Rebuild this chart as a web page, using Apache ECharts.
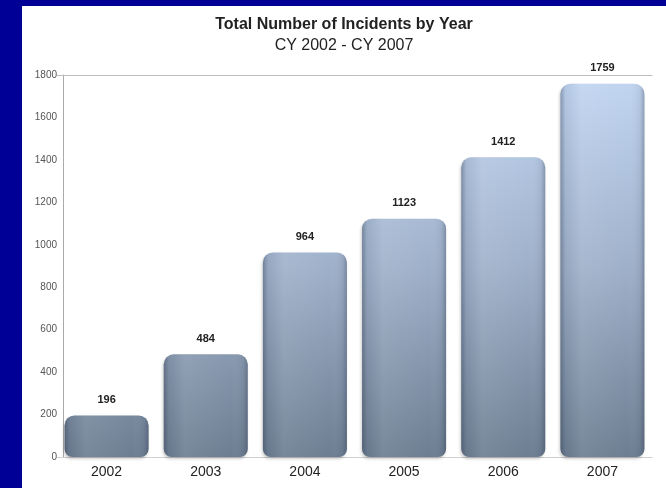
<!DOCTYPE html>
<html>
<head>
<meta charset="utf-8">
<script src="https://cdn.jsdelivr.net/npm/echarts@6/dist/echarts.min.js"></script>
<style>
  html, body { margin: 0; padding: 0; background: #000096; width: 666px; height: 488px; overflow: hidden; }
  #chart { position: absolute; left: 22px; top: 6px; width: 644px; height: 482px; background: #fff; }
</style>
</head>
<body>
<div id="chart"></div>
<script>
// incidents per calendar year
const years = ['2002', '2003', '2004', '2005', '2006', '2007'];
const incidents = [196, 484, 964, 1123, 1412, 1759];

const chart = echarts.init(document.getElementById('chart'));

// vertical shade over the whole plot, dark at the bottom, light at the top
const bodyFill = new echarts.graphic.LinearGradient(0, 69, 0, 451, [
  { offset: 0, color: '#c2d6f2' },
  { offset: 0.5, color: '#9fb1ca' },
  { offset: 1, color: '#6d7e92' }
], true);

// side shading so the bars look rounded
const edgeFill = new echarts.graphic.LinearGradient(0, 0, 1, 0, [
  { offset: 0, color: 'rgba(30,40,60,0.35)' },
  { offset: 0.06, color: 'rgba(30,40,60,0.08)' },
  { offset: 0.25, color: 'rgba(255,255,255,0.08)' },
  { offset: 0.8, color: 'rgba(255,255,255,0)' },
  { offset: 0.95, color: 'rgba(30,40,60,0.08)' },
  { offset: 1, color: 'rgba(30,40,60,0.3)' }
]);

const option = {
  animation: false,
  title: {
    text: 'Total Number of Incidents by Year',
    subtext: 'CY 2002 - CY 2007',
    left: 'center',
    top: 6,
    itemGap: 5,
    textStyle: { fontFamily: 'Liberation Sans', fontSize: 16, fontWeight: 'bold', color: '#222' },
    subtextStyle: { fontFamily: 'Liberation Sans', fontSize: 16, color: '#222' }
  },
  grid: { left: 35, right: 14, top: 69, bottom: 31 },
  xAxis: [
    {
      type: 'category',
      data: years,
      axisLine: { lineStyle: { color: '#cfcfcf' } },
      axisTick: { show: false },
      axisLabel: { fontFamily: 'Liberation Sans', fontSize: 14, color: '#222', margin: 8 }
    },
    {
      type: 'category',
      position: 'top',
      data: years,
      axisLine: { lineStyle: { color: '#bdbdbd' } },
      axisTick: { show: false },
      axisLabel: { show: false }
    }
  ],
  yAxis: {
    type: 'value',
    min: 0,
    max: 1800,
    interval: 200,
    offset: -6,
    axisLine: { show: true, lineStyle: { color: '#aaaaaa' } },
    axisTick: { show: false },
    splitLine: { show: false },
    axisLabel: {
      fontFamily: 'Liberation Sans', fontSize: 10, color: '#555', margin: 6,
      formatter: (v) => String(v)
    }
  },
  series: [
    {
      type: 'bar',
      data: incidents,
      barWidth: 84,
      itemStyle: {
        color: bodyFill,
        borderRadius: [10, 10, 8, 8],
        shadowColor: 'rgba(0,0,0,0.2)',
        shadowBlur: 3,
        shadowOffsetX: -1,
        shadowOffsetY: 2
      }
    },
    {
      type: 'bar',
      data: incidents,
      barWidth: 84,
      barGap: '-100%',
      itemStyle: {
        color: edgeFill,
        borderRadius: [10, 10, 8, 8]
      },
      label: {
        show: true,
        position: 'top',
        distance: 10,
        fontFamily: 'Liberation Sans',
        fontSize: 11,
        fontWeight: 'bold',
        color: '#222'
      }
    }
  ]
};

option && chart.setOption(option);
</script>
</body>
</html>
